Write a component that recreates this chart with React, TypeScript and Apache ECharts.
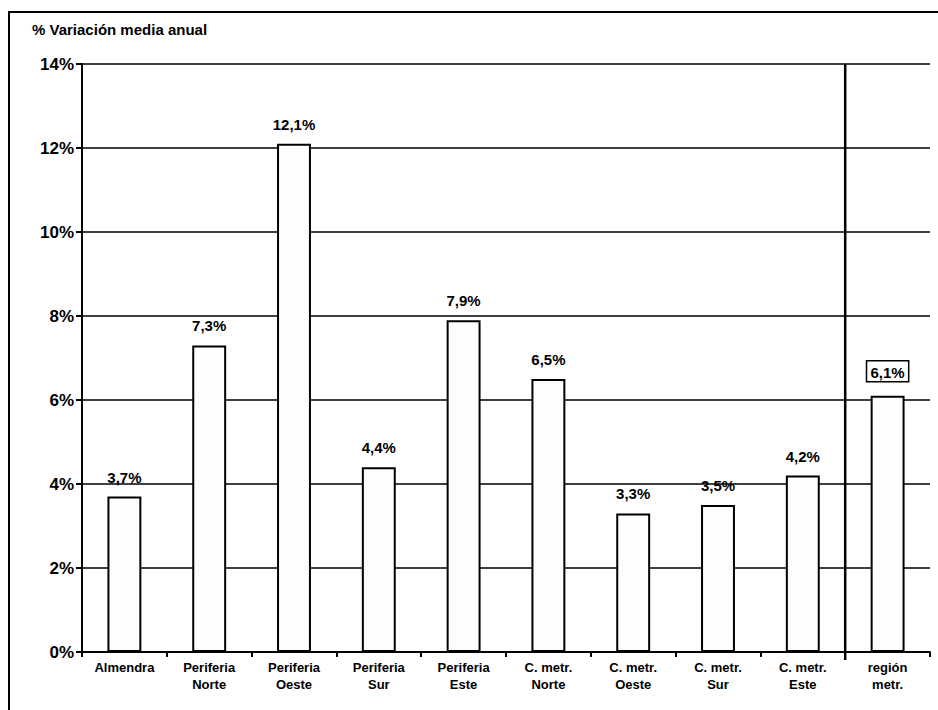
import React, { useEffect, useRef } from "react";
import * as echarts from "echarts";

const categories = [
  "Almendra",
  "Periferia\nNorte",
  "Periferia\nOeste",
  "Periferia\nSur",
  "Periferia\nEste",
  "C. metr.\nNorte",
  "C. metr.\nOeste",
  "C. metr.\nSur",
  "C. metr.\nEste",
  "región\nmetr.",
];
const values = [3.7, 7.3, 12.1, 4.4, 7.9, 6.5, 3.3, 3.5, 4.2, 6.1];
const yTicks = [0, 2, 4, 6, 8, 10, 12, 14];
const yTitle = "% Variación media anual";

const FONT = "'Liberation Sans', Arial, sans-serif";

export default function App() {
  const ref = useRef<HTMLDivElement>(null);

  useEffect(() => {
    if (!ref.current) return;
    const chart = echarts.init(ref.current, null, { renderer: "svg" });
    const fmt = (v: number) => v.toFixed(1).replace(".", ",") + "%";
    const last = values.length - 1;

    chart.setOption({
      animation: false,
      backgroundColor: "#ffffff",
      title: {
        text: yTitle,
        left: 27,
        top: 17,
        textStyle: { fontFamily: FONT, fontSize: 15, fontWeight: "bold", color: "#000" },
      },
      grid: { left: 82, right: 8, top: 64, bottom: 58 },
      xAxis: {
        type: "category",
        data: categories,
        boundaryGap: true,
        axisLine: { lineStyle: { color: "#000", width: 2 } },
        axisTick: { show: true, length: 5, lineStyle: { color: "#000", width: 2 } },
        axisLabel: {
          color: "#000",
          fontFamily: FONT,
          fontSize: 13,
          fontWeight: "bold",
          lineHeight: 17,
          margin: 7,
          interval: 0,
        },
      },
      yAxis: {
        type: "value",
        min: yTicks[0],
        max: yTicks[yTicks.length - 1],
        interval: 2,
        axisLine: { show: true, lineStyle: { color: "#000", width: 2 } },
        axisTick: { show: true, length: 6, lineStyle: { color: "#000", width: 2 } },
        splitLine: { show: true, lineStyle: { color: "#000", width: 1.6 } },
        axisLabel: {
          color: "#000",
          fontFamily: FONT,
          fontSize: 17,
          fontWeight: "bold",
          margin: 8,
          formatter: (v: number) => v + "%",
        },
      },
      series: [
        {
          type: "bar",
          barWidth: "40%",
          data: values.map((v, i) => ({
            value: v,
            label:
              i === last
                ? {
                    borderColor: "#000",
                    borderWidth: 1.5,
                    padding: [4, 4, 2, 4],
                    distance: 14,
                  }
                : {},
          })),
          itemStyle: { color: "#fdfdfd", borderColor: "#000", borderWidth: 2 },
          label: {
            show: true,
            position: "top",
            distance: 12,
            color: "#000",
            fontFamily: FONT,
            fontSize: 15,
            fontWeight: "bold",
            formatter: (p: any) => fmt(p.value),
          },
        },
      ],
    });

    // Separator between the sub-areas and the metropolitan total, plus the outer frame
    const xa = chart.convertToPixel({ xAxisIndex: 0 }, last - 1) as number;
    const xb = chart.convertToPixel({ xAxisIndex: 0 }, last) as number;
    const sepX = (xa + xb) / 2;
    const yTop = chart.convertToPixel({ yAxisIndex: 0 }, yTicks[yTicks.length - 1]) as number;
    const yBot = chart.convertToPixel({ yAxisIndex: 0 }, yTicks[0]) as number;
    chart.setOption({
      graphic: [
        {
          type: "line",
          shape: { x1: sepX, y1: yTop, x2: sepX, y2: yBot + 8 },
          style: { stroke: "#000", lineWidth: 2.5 },
          z: 10,
        },
        {
          type: "polyline",
          shape: { points: [[9, 710], [9, 12], [938, 12]] },
          style: { stroke: "#000", lineWidth: 2, fill: "none" },
        },
      ],
    });

    return () => chart.dispose();
  }, []);

  return (
    <div
      ref={ref}
      style={{ position: "absolute", left: 0, top: 0, width: 938, height: 710 }}
    />
  );
}
